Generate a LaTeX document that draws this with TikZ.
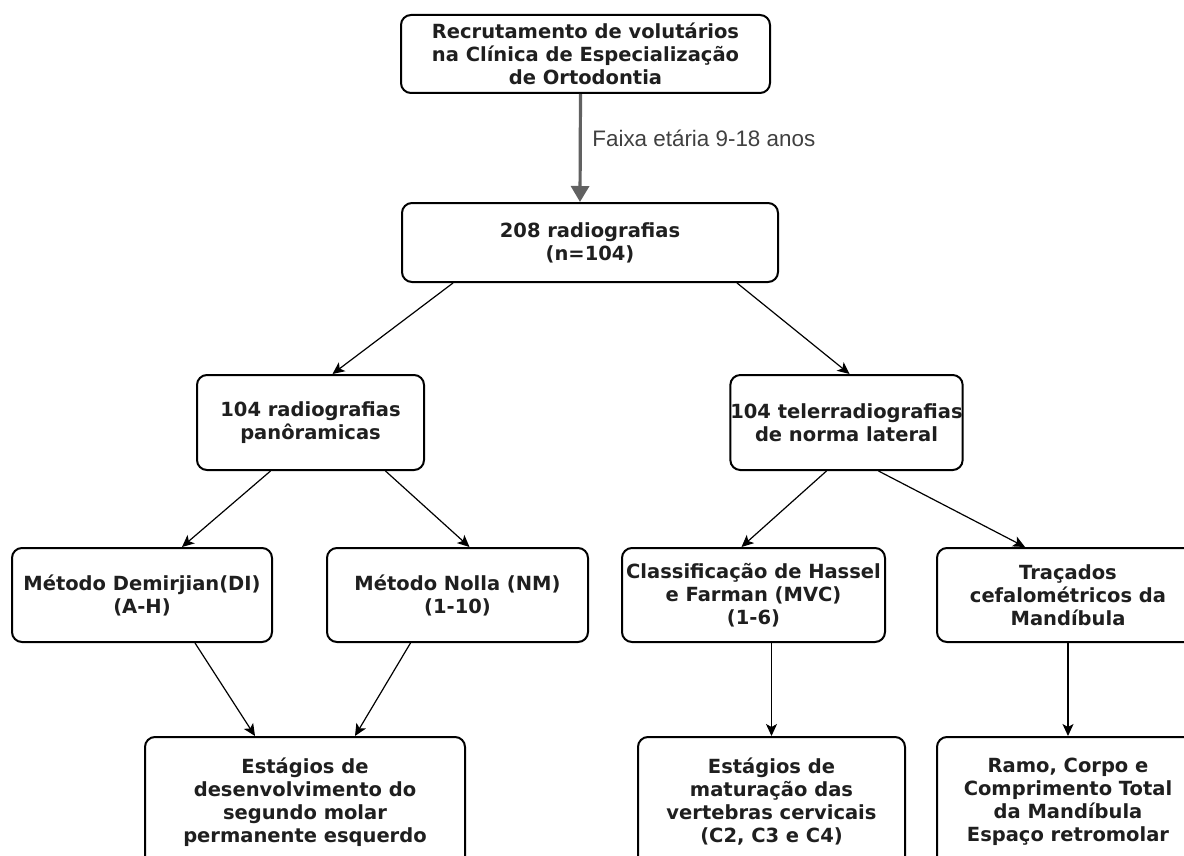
\documentclass[tikz,border=0pt]{standalone}
\usepackage{fontspec}
\setmainfont{DejaVu Sans}
\newfontfamily\rotulofont{Liberation Sans}
\usetikzlibrary{calc,arrows.meta}
\tikzset{
  caixa/.style={draw=black, line width=1pt, rounded corners=5pt, fill=white,
    align=center, inner sep=0pt, text=black!88,
    font=\fontsize{9.75}{11.5}\selectfont\bfseries},
  seta/.style={-{Stealth[length=6pt,width=5.5pt,inset=1.5pt]}, line width=0.6pt},
  setacinza/.style={-{Triangle[length=8pt,width=9pt]}, line width=1.6pt, color=black!62},
}

\begin{document}
\begin{tikzpicture}[x=0.5pt, y=-0.5pt]
			%%%%% START %%%%%
			\useasboundingbox (0, 0) rectangle (1184, 856);
			
			\node[caixa, minimum width=184.5pt, minimum height=39pt] (recrut) at (585.5, 54)
				{Recrutamento de volutários\\na Clínica de Especialização\\de Ortodontia};
			\node[caixa, minimum width=188pt, minimum height=39.5pt] (total) at (590, 242.5)
				{208 radiografias\\(n=104)};
			
			\node[caixa, minimum width=113.5pt, minimum height=47.5pt] (panor) at (310.5, 422.5)
				{104 radiografias\\panôramicas};
			\node[caixa, minimum width=113.5pt, minimum height=47.5pt] (telerr) at (846.5, 422.5)
				{104 telerradiografias\\de norma lateral};
			
			\node[caixa, minimum width=130pt, minimum height=47pt] (demirj) at (142, 595)
				{Método Demirjian(DI)\\(A-H)};
			\node[caixa, minimum width=130.5pt, minimum height=47pt] (nolla) at (457.5, 595)
				{Método Nolla (NM)\\(1-10)};
			\node[caixa, minimum width=131.5pt, minimum height=47pt] (hassel) at (753.5, 595)
				{Classificação de Hassel\\e Farman (MVC)\\(1-6)};
			\node[caixa, minimum width=131pt, minimum height=47pt] (tracad) at (1068, 595)
				{Traçados\\cefalométricos da\\Mandíbula};
			
			\node[caixa, minimum width=160pt, minimum height=65pt] (molar) at (305, 802)
				{Estágios de\\desenvolvimento do\\segundo molar\\permanente esquerdo};
			\node[caixa, minimum width=133.5pt, minimum height=65pt] (vertebr) at (771.5, 802)
				{Estágios de\\maturação das\\vertebras cervicais\\(C2, C3 e C4)};
			\node[caixa, minimum width=131pt, minimum height=65pt] (mandib) at (1068, 802)
				{Ramo, Corpo e\\Comprimento Total\\da Mandíbula\\Espaço retromolar};
			
			\draw[setacinza] ($(recrut.south)+(-5, 0)$) -- ($(total.north)+(-10, 0)$);
			\node[font=\rotulofont\fontsize{11.2}{13}\selectfont, text=black!75, anchor=west, inner sep=0pt]
				(faixa) at (592, 138) {Faixa etária 9-18 anos};
			
			\draw[seta] ($(total.south)+(-137, 0)$) -- ($(panor.north)+(22, 0)$);
			\draw[seta] ($(total.south)+(147, 0)$) -- ($(telerr.north)+(3, 0)$);
			
			\draw[seta] ($(panor.south)+(-40, 0)$) -- ($(demirj.north)+(40, 0)$);
			\draw[seta] ($(panor.south)+(75, 0)$) -- ($(nolla.north)+(12, 0)$);
			\draw[seta] ($(telerr.south)+(-20, 0)$) -- ($(hassel.north)+(-12, 0)$);
			\draw[seta] ($(telerr.south)+(32, 0)$) -- ($(tracad.north)+(-43, 0)$);
			
			\draw[seta] ($(demirj.south)+(53, 0)$) -- ($(molar.north)+(-50, 0)$);
			\draw[seta] ($(nolla.south)+(-47, 0)$) -- ($(molar.north)+(50, 0)$);
			\draw[seta] (hassel.south -| vertebr.north) -- (vertebr.north);
			\draw[seta] (tracad.south) -- (mandib.north);
			%%%%% END %%%%%
\end{tikzpicture}
\end{document}
